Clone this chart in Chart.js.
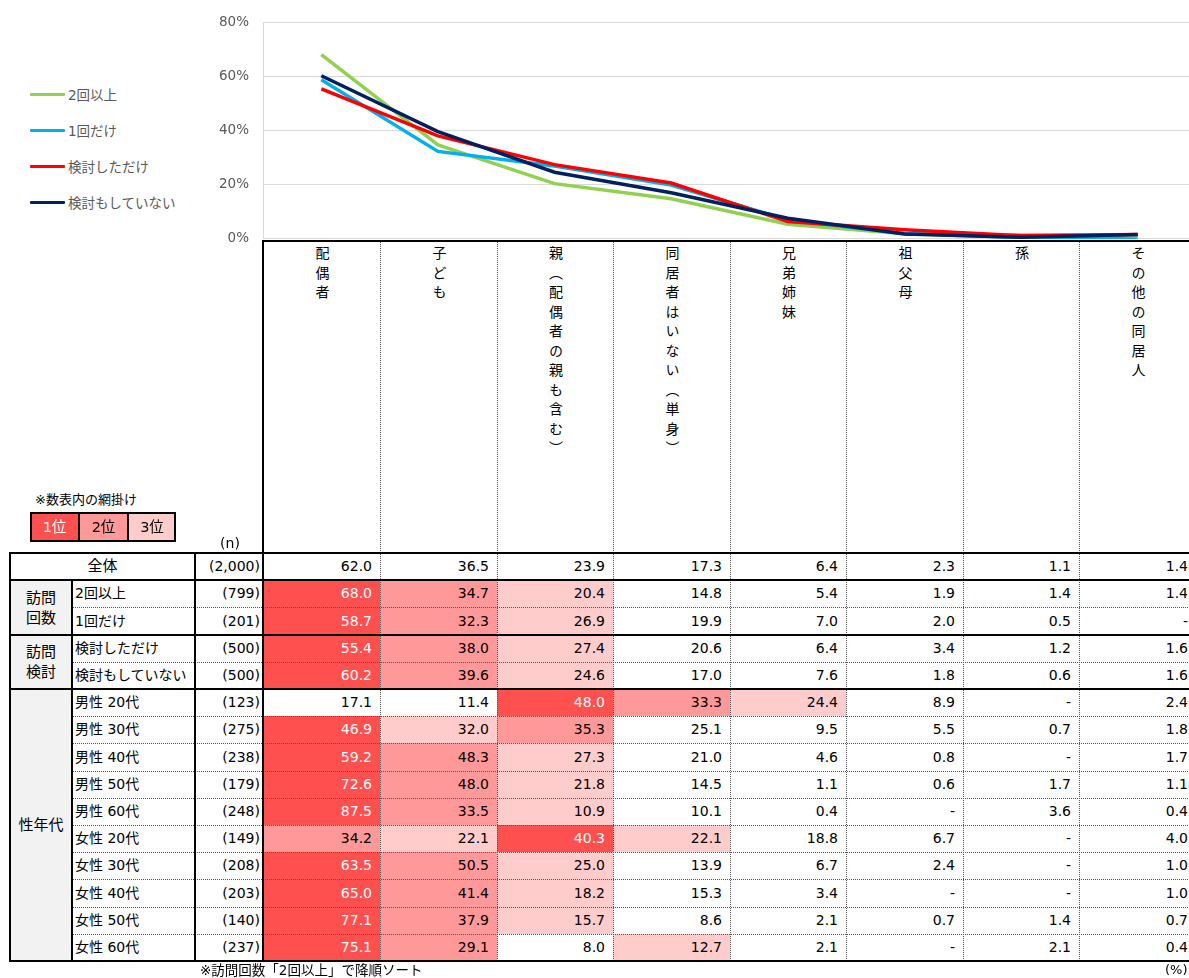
<!DOCTYPE html>
<html lang="ja">
<head>
<meta charset="utf-8">
<title>同居人</title>
<script src="https://cdn.jsdelivr.net/npm/chart.js@4.4.1/dist/chart.umd.min.js"></script>
<style>
    html, body { margin: 0; padding: 0; background: #fff; }
    body {
        position: relative; width: 1189px; height: 978px; overflow: hidden;
        font-family: "DejaVu Sans", "Noto Sans CJK JP", sans-serif; color: #000;
    }
    .abs { position: absolute; box-sizing: border-box; white-space: nowrap; }
    #chartBox { position: absolute; left: 200px; top: 0; width: 996px; height: 261px; }
    .legend-item {
        position: absolute; left: 30px; height: 20px; display: flex; align-items: center;
        font-size: 13.5px; color: #595959;
    }
    .legend-item i { display: inline-block; width: 35px; height: 3px; margin-right: 3px; border-radius: 1px; }
    .vhead { writing-mode: vertical-rl; font-size: 14px; letter-spacing: 5.5px; }
</style>
</head>
<body>
<div id="chartBox"><canvas id="lineChart"></canvas></div>
<div id="legend"></div>
<div id="table"></div>
<script>
// Categories (columns)
const categories = ['配偶者', '子ども', '親（配偶者の親も含む）', '同居者はいない（単身）', '兄弟姉妹', '祖父母', '孫', 'その他の同居人'];

// Rows of the table (null = "-")
const overall = [62.0, 36.5, 23.9, 17.3, 6.4, 2.3, 1.1, 1.4];
const twoPlus = [68.0, 34.7, 20.4, 14.8, 5.4, 1.9, 1.4, 1.4];
const onceOnly = [58.7, 32.3, 26.9, 19.9, 7.0, 2.0, 0.5, null];
const consideredOnly = [55.4, 38.0, 27.4, 20.6, 6.4, 3.4, 1.2, 1.6];
const notConsidered = [60.2, 39.6, 24.6, 17.0, 7.6, 1.8, 0.6, 1.6];

const genderAgeLabels = ['男性 20代', '男性 30代', '男性 40代', '男性 50代', '男性 60代', '女性 20代', '女性 30代', '女性 40代', '女性 50代', '女性 60代'];
const genderAgeSizes = [123, 275, 238, 179, 248, 149, 208, 203, 140, 237];
const genderAgeValues = [
    [17.1, 11.4, 48.0, 33.3, 24.4, 8.9, null, 2.4],
    [46.9, 32.0, 35.3, 25.1, 9.5, 5.5, 0.7, 1.8],
    [59.2, 48.3, 27.3, 21.0, 4.6, 0.8, null, 1.7],
    [72.6, 48.0, 21.8, 14.5, 1.1, 0.6, 1.7, 1.1],
    [87.5, 33.5, 10.9, 10.1, 0.4, null, 3.6, 0.4],
    [34.2, 22.1, 40.3, 22.1, 18.8, 6.7, null, 4.0],
    [63.5, 50.5, 25.0, 13.9, 6.7, 2.4, null, 1.0],
    [65.0, 41.4, 18.2, 15.3, 3.4, null, null, 1.0],
    [77.1, 37.9, 15.7, 8.6, 2.1, 0.7, 1.4, 0.7],
    [75.1, 29.1, 8.0, 12.7, 2.1, null, 2.1, 0.4]
];

// Line chart series
const seriesNames = ['2回以上', '1回だけ', '検討しただけ', '検討もしていない'];
const seriesValues = [twoPlus, onceOnly, consideredOnly, notConsidered];
const seriesColors = ['#92D050', '#00B0F0', '#FF0000', '#002060'];

// Y axis ticks
const yTicks = [0, 20, 40, 60, 80];

const rankFills = ['#FF5050', '#FF9999', '#FFCCCC'];

Chart.defaults.font.family = "'DejaVu Sans', 'Noto Sans CJK JP', sans-serif";
Chart.defaults.font.size = 13;

// Line chart
new Chart(document.getElementById('lineChart'), {
    type: 'line',
    data: {
        labels: categories,
        datasets: seriesNames.map((name, i) => ({
            label: name,
            data: seriesValues[i].map(v => v === null ? 0 : v),
            borderColor: seriesColors[i],
            backgroundColor: seriesColors[i],
            borderWidth: 3.5,
            pointRadius: 0,
            tension: 0,
            fill: false,
            order: seriesNames.length - i
        }))
    },
    options: {
        responsive: true,
        maintainAspectRatio: false,
        animation: false,
        layout: { padding: { top: 21, bottom: 7, left: 0, right: 0 } },
        plugins: { legend: { display: false }, tooltip: { enabled: false } },
        scales: {
            x: { type: 'category', display: false, offset: true },
            y: {
                min: yTicks[0],
                max: yTicks[yTicks.length - 1],
                ticks: {
                    stepSize: yTicks[1] - yTicks[0],
                    callback: v => v + '%',
                    color: '#595959',
                    font: { size: 13.5 },
                    padding: 14
                },
                grid: { color: '#d9d9d9', lineWidth: 1, drawTicks: false },
                border: { color: '#d9d9d9' },
                afterFit: scale => { scale.width = 63; }
            }
        }
    }
});

// Legend
const legendEl = document.getElementById('legend');
seriesNames.forEach((name, i) => {
    const item = document.createElement('div');
    item.className = 'legend-item';
    item.style.top = (84 + i * 36) + 'px';
    item.innerHTML = '<i style="background:' + seriesColors[i] + '"></i>' + name;
    legendEl.appendChild(item);
});

// Table
const tableEl = document.getElementById('table');
function put(left, top, width, height, style, html) {
    const d = document.createElement('div');
    d.className = 'abs';
    Object.assign(d.style, { left: left + 'px', top: top + 'px', width: width + 'px', height: height + 'px' }, style || {});
    if (html !== undefined) d.innerHTML = html;
    tableEl.appendChild(d);
    return d;
}

const tableRows = [
    { label: '全体', n: 2000, values: overall },
    { label: '2回以上', n: 799, values: twoPlus },
    { label: '1回だけ', n: 201, values: onceOnly },
    { label: '検討しただけ', n: 500, values: consideredOnly },
    { label: '検討もしていない', n: 500, values: notConsidered }
].concat(genderAgeLabels.map((label, i) => ({ label: label, n: genderAgeSizes[i], values: genderAgeValues[i] })));

const groups = [
    { label: '訪問<br>回数', from: 1, to: 2 },
    { label: '訪問<br>検討', from: 3, to: 4 },
    { label: '性年代', from: 5, to: 14 }
];

const colX = [263, 380, 497, 613, 730, 846, 963, 1079, 1196];
const headTop = 240, bodyTop = 553, rowH = 27.2;
const rowY = i => Math.round(bodyTop + i * rowH);

function rankOf(row, v) {
    if (v === null) return 0;
    return 1 + row.filter(x => x !== null && x > v).length;
}

// header cells with vertical text
put(263, headTop, 1196 - 263, bodyTop - headTop, { background: '#fff' });
categories.forEach((c, j) => {
    put(colX[j], headTop, colX[j + 1] - colX[j], bodyTop - headTop,
        { display: 'flex', justifyContent: 'center', paddingTop: '6px' },
        '<span class="vhead">' + c + '</span>');
});

// body
tableRows.forEach((row, i) => {
    const y0 = rowY(i), h = rowY(i + 1) - y0;
    if (i === 0) {
        put(10, y0, 185, h, { textAlign: 'center', lineHeight: h + 'px', fontSize: '15px' }, row.label);
    } else {
        put(72, y0, 123, h, { lineHeight: h + 'px', paddingLeft: '3px', fontSize: '14px' }, row.label);
    }
    put(195, y0, 68, h, { lineHeight: h + 'px', textAlign: 'right', paddingRight: '3px', fontSize: '14px' },
        '(' + row.n.toLocaleString('en-US') + ')');
    row.values.forEach((v, j) => {
        const r = i === 0 ? 0 : rankOf(row.values, v);
        put(colX[j], y0, colX[j + 1] - colX[j], h, {
            lineHeight: h + 'px', textAlign: 'right', paddingRight: '8px', fontSize: '14px',
            background: r >= 1 && r <= 3 ? rankFills[r - 1] : '#fff',
            color: r === 1 ? '#fff' : '#000'
        }, v === null ? '-' : v.toFixed(1));
    });
});

groups.forEach(g => {
    const y0 = rowY(g.from), y1 = rowY(g.to + 1);
    put(10, y0, 62, y1 - y0, {
        background: '#f2f2f2', display: 'flex', alignItems: 'center', justifyContent: 'center',
        textAlign: 'center', fontSize: '15px', lineHeight: '20px', whiteSpace: 'normal'
    }, g.label);
});

// lines
function hThick(x1, x2, y) { put(x1, y - 1, x2 - x1, 2, { background: '#000' }); }
function hDot(x1, x2, y) { put(x1, y, x2 - x1, 1, { borderTop: '1px dotted #555' }); }
function vThick(x, y1, y2) { put(x - 1, y1, 2, y2 - y1, { background: '#000' }); }
function vDot(x, y1, y2) { put(x, y1, 1, y2 - y1, { borderLeft: '1px dotted #555' }); }

const bottom = rowY(tableRows.length);
for (let j = 1; j < colX.length - 1; j++) vDot(colX[j], headTop, bottom);
[2, 4, 6, 7, 8, 9, 10, 11, 12, 13, 14].forEach(i => hDot(72, 1196, rowY(i)));
hThick(263, 1196, headTop + 1);
[0, 1, 3, 5].forEach(i => hThick(10, 1196, rowY(i)));
hThick(10, 1196, bottom);
vThick(10, bodyTop - 1, bottom + 1);
vThick(72, rowY(1), bottom);
vThick(195, bodyTop, bottom);
vThick(263, headTop, bottom + 1);

// shading key
put(35, 491, 200, 18, { fontSize: '13px', lineHeight: '18px' }, '※数表内の網掛け');
['1位', '2位', '3位'].forEach((t, k) => {
    const x = [30, 79, 128][k], w = [49, 49, 48][k];
    put(x, 512, w, 30, {
        background: rankFills[k], color: k === 0 ? '#fff' : '#000',
        textAlign: 'center', lineHeight: '30px', fontSize: '14.5px'
    }, t);
});
put(30, 512, 146, 30, { border: '2px solid #000' });
put(78, 512, 2, 30, { background: '#000' });
put(127, 512, 2, 30, { background: '#000' });
put(205, 533, 50, 20, { textAlign: 'center', fontSize: '14px', lineHeight: '20px' }, '(n)');

// footer
put(200, 961, 400, 18, { fontSize: '13.5px', lineHeight: '18px' }, '※訪問回数「2回以上」で降順ソート');
put(1165, 961, 40, 18, { fontSize: '13px', lineHeight: '18px' }, '(%)');
</script>
</body>
</html>
